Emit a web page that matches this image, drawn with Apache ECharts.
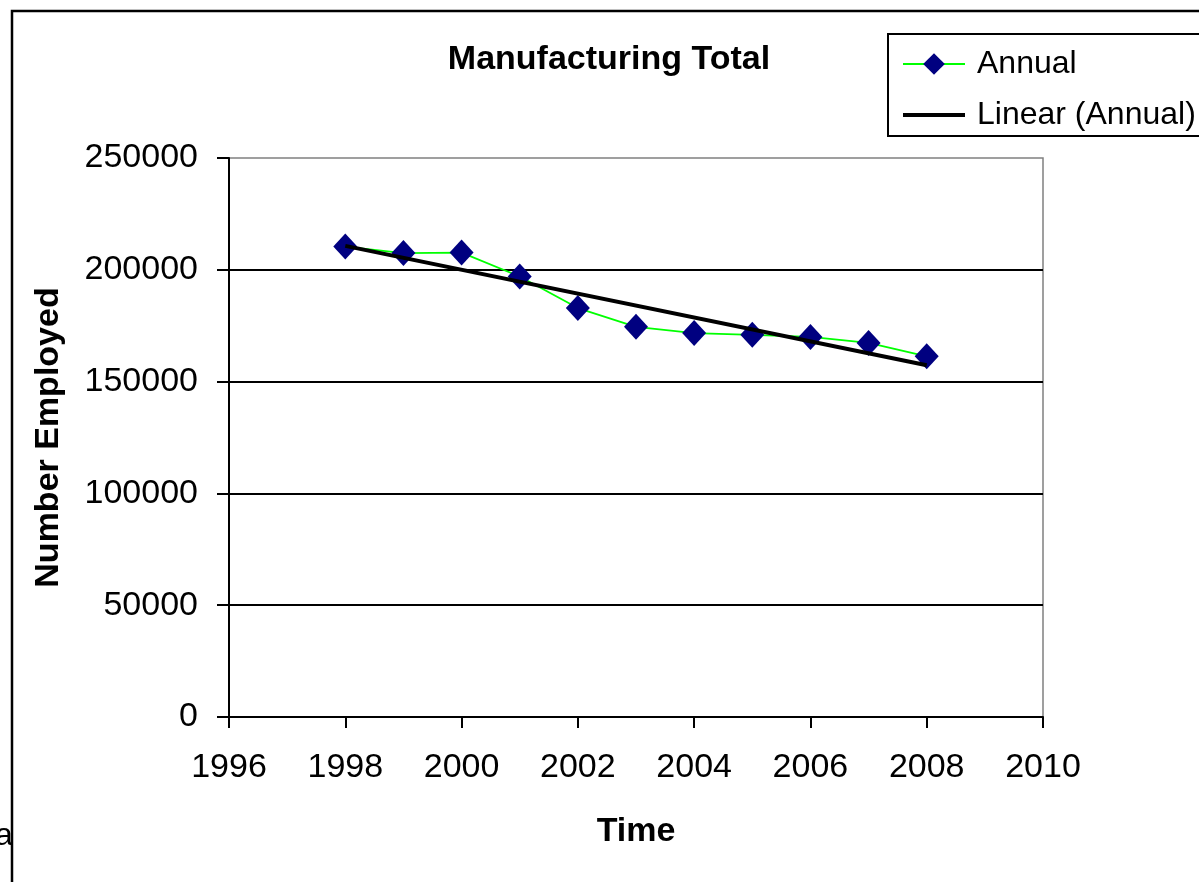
<!DOCTYPE html>
<html>
<head>
<meta charset="utf-8">
<script src="https://cdn.jsdelivr.net/npm/echarts@6/dist/echarts.min.js"></script>
<style>
  html, body { margin: 0; padding: 0; background: #fff; }
  #chart { width: 1199px; height: 882px; }
</style>
</head>
<body>
<div id="chart"></div>
<script>
// values
const years = [1998, 1999, 2000, 2001, 2002, 2003, 2004, 2005, 2006, 2007, 2008]
const annual = [210400, 207500, 207700, 197000, 182900, 174500, 171700, 170900, 170000, 167300, 161300]
const trendYears = [1998, 2008]
const trendValues = [210700, 157300]

const font = '"Liberation Sans", Arial, sans-serif'

const chart = echarts.init(document.getElementById('chart'))

const option = {
  backgroundColor: '#fff',
  animation: false,
  textStyle: { fontFamily: font, color: '#000' },
  title: {
    text: 'Manufacturing Total',
    left: 604,
    top: 38,
    textAlign: 'center',
    textStyle: { fontFamily: font, fontSize: 34, fontWeight: 'bold', color: '#000' }
  },
  legend: {
    orient: 'vertical',
    left: 888,
    top: 34,
    padding: [12, 40, 3, 13],
    itemGap: 15,
    itemWidth: 62,
    itemHeight: 27,
    borderColor: '#000',
    borderWidth: 2,
    backgroundColor: '#fff',
    textStyle: { fontFamily: font, fontSize: 32, color: '#000', lineHeight: 36, padding: [0, 0, 0, 7] },
    data: [
      { name: 'Annual' },
      { name: 'Linear (Annual)', itemStyle: { opacity: 0 }, lineStyle: { width: 4, color: '#000' } }
    ]
  },
  grid: {
    left: 229,
    right: 156,
    top: 158,
    bottom: 165,
    show: true,
    borderColor: '#808080',
    borderWidth: 1.5
  },
  xAxis: {
    type: 'value',
    min: 1996,
    max: 2010,
    interval: 2,
    name: 'Time',
    nameLocation: 'middle',
    nameGap: 98,
    nameTextStyle: { fontFamily: font, fontSize: 34, fontWeight: 'bold', color: '#000' },
    axisLine: { lineStyle: { color: '#000', width: 2 } },
    axisTick: { length: 11, lineStyle: { color: '#000', width: 2 } },
    axisLabel: { fontFamily: font, fontSize: 34, color: '#000', margin: 34, formatter: v => String(v) },
    splitLine: { show: false }
  },
  yAxis: {
    type: 'value',
    min: 0,
    max: 250000,
    interval: 50000,
    name: 'Number Employed',
    nameLocation: 'middle',
    nameGap: 163,
    nameTextStyle: { fontFamily: font, fontSize: 34, fontWeight: 'bold', color: '#000' },
    axisLine: { show: true, lineStyle: { color: '#000', width: 2 } },
    axisTick: { show: true, length: 12, lineStyle: { color: '#000', width: 2 } },
    axisLabel: { fontFamily: font, fontSize: 34, color: '#000', margin: 31, formatter: v => String(v) },
    splitLine: { show: true, showMinLine: false, showMaxLine: false, lineStyle: { color: '#000', width: 2 } }
  },
  graphic: [
    {
      type: 'rect',
      silent: true,
      z: -10,
      shape: { x: 12, y: 11, width: 1400, height: 1000 },
      style: { fill: 'none', stroke: '#000', lineWidth: 2.5 }
    },
    {
      type: 'text',
      silent: true,
      x: -5,
      y: 820,
      z: -20,
      style: { text: 'a', fontFamily: 'Liberation Sans', fontSize: 32, fill: '#000' }
    }
  ],
  series: [
    {
      name: 'Annual',
      type: 'line',
      data: years.map((y, i) => [y, annual[i]]),
      symbol: 'diamond',
      symbolSize: [24, 26],
      itemStyle: { color: '#000080', borderWidth: 0 },
      lineStyle: { color: '#00ff00', width: 1.8 },
      z: 2
    },
    {
      name: 'Linear (Annual)',
      type: 'line',
      data: trendYears.map((y, i) => [y, trendValues[i]]),
      symbol: 'none',
      itemStyle: { color: '#000' },
      lineStyle: { color: '#000', width: 4 },
      z: 3
    }
  ]
}

chart.setOption(option)
</script>
</body>
</html>
